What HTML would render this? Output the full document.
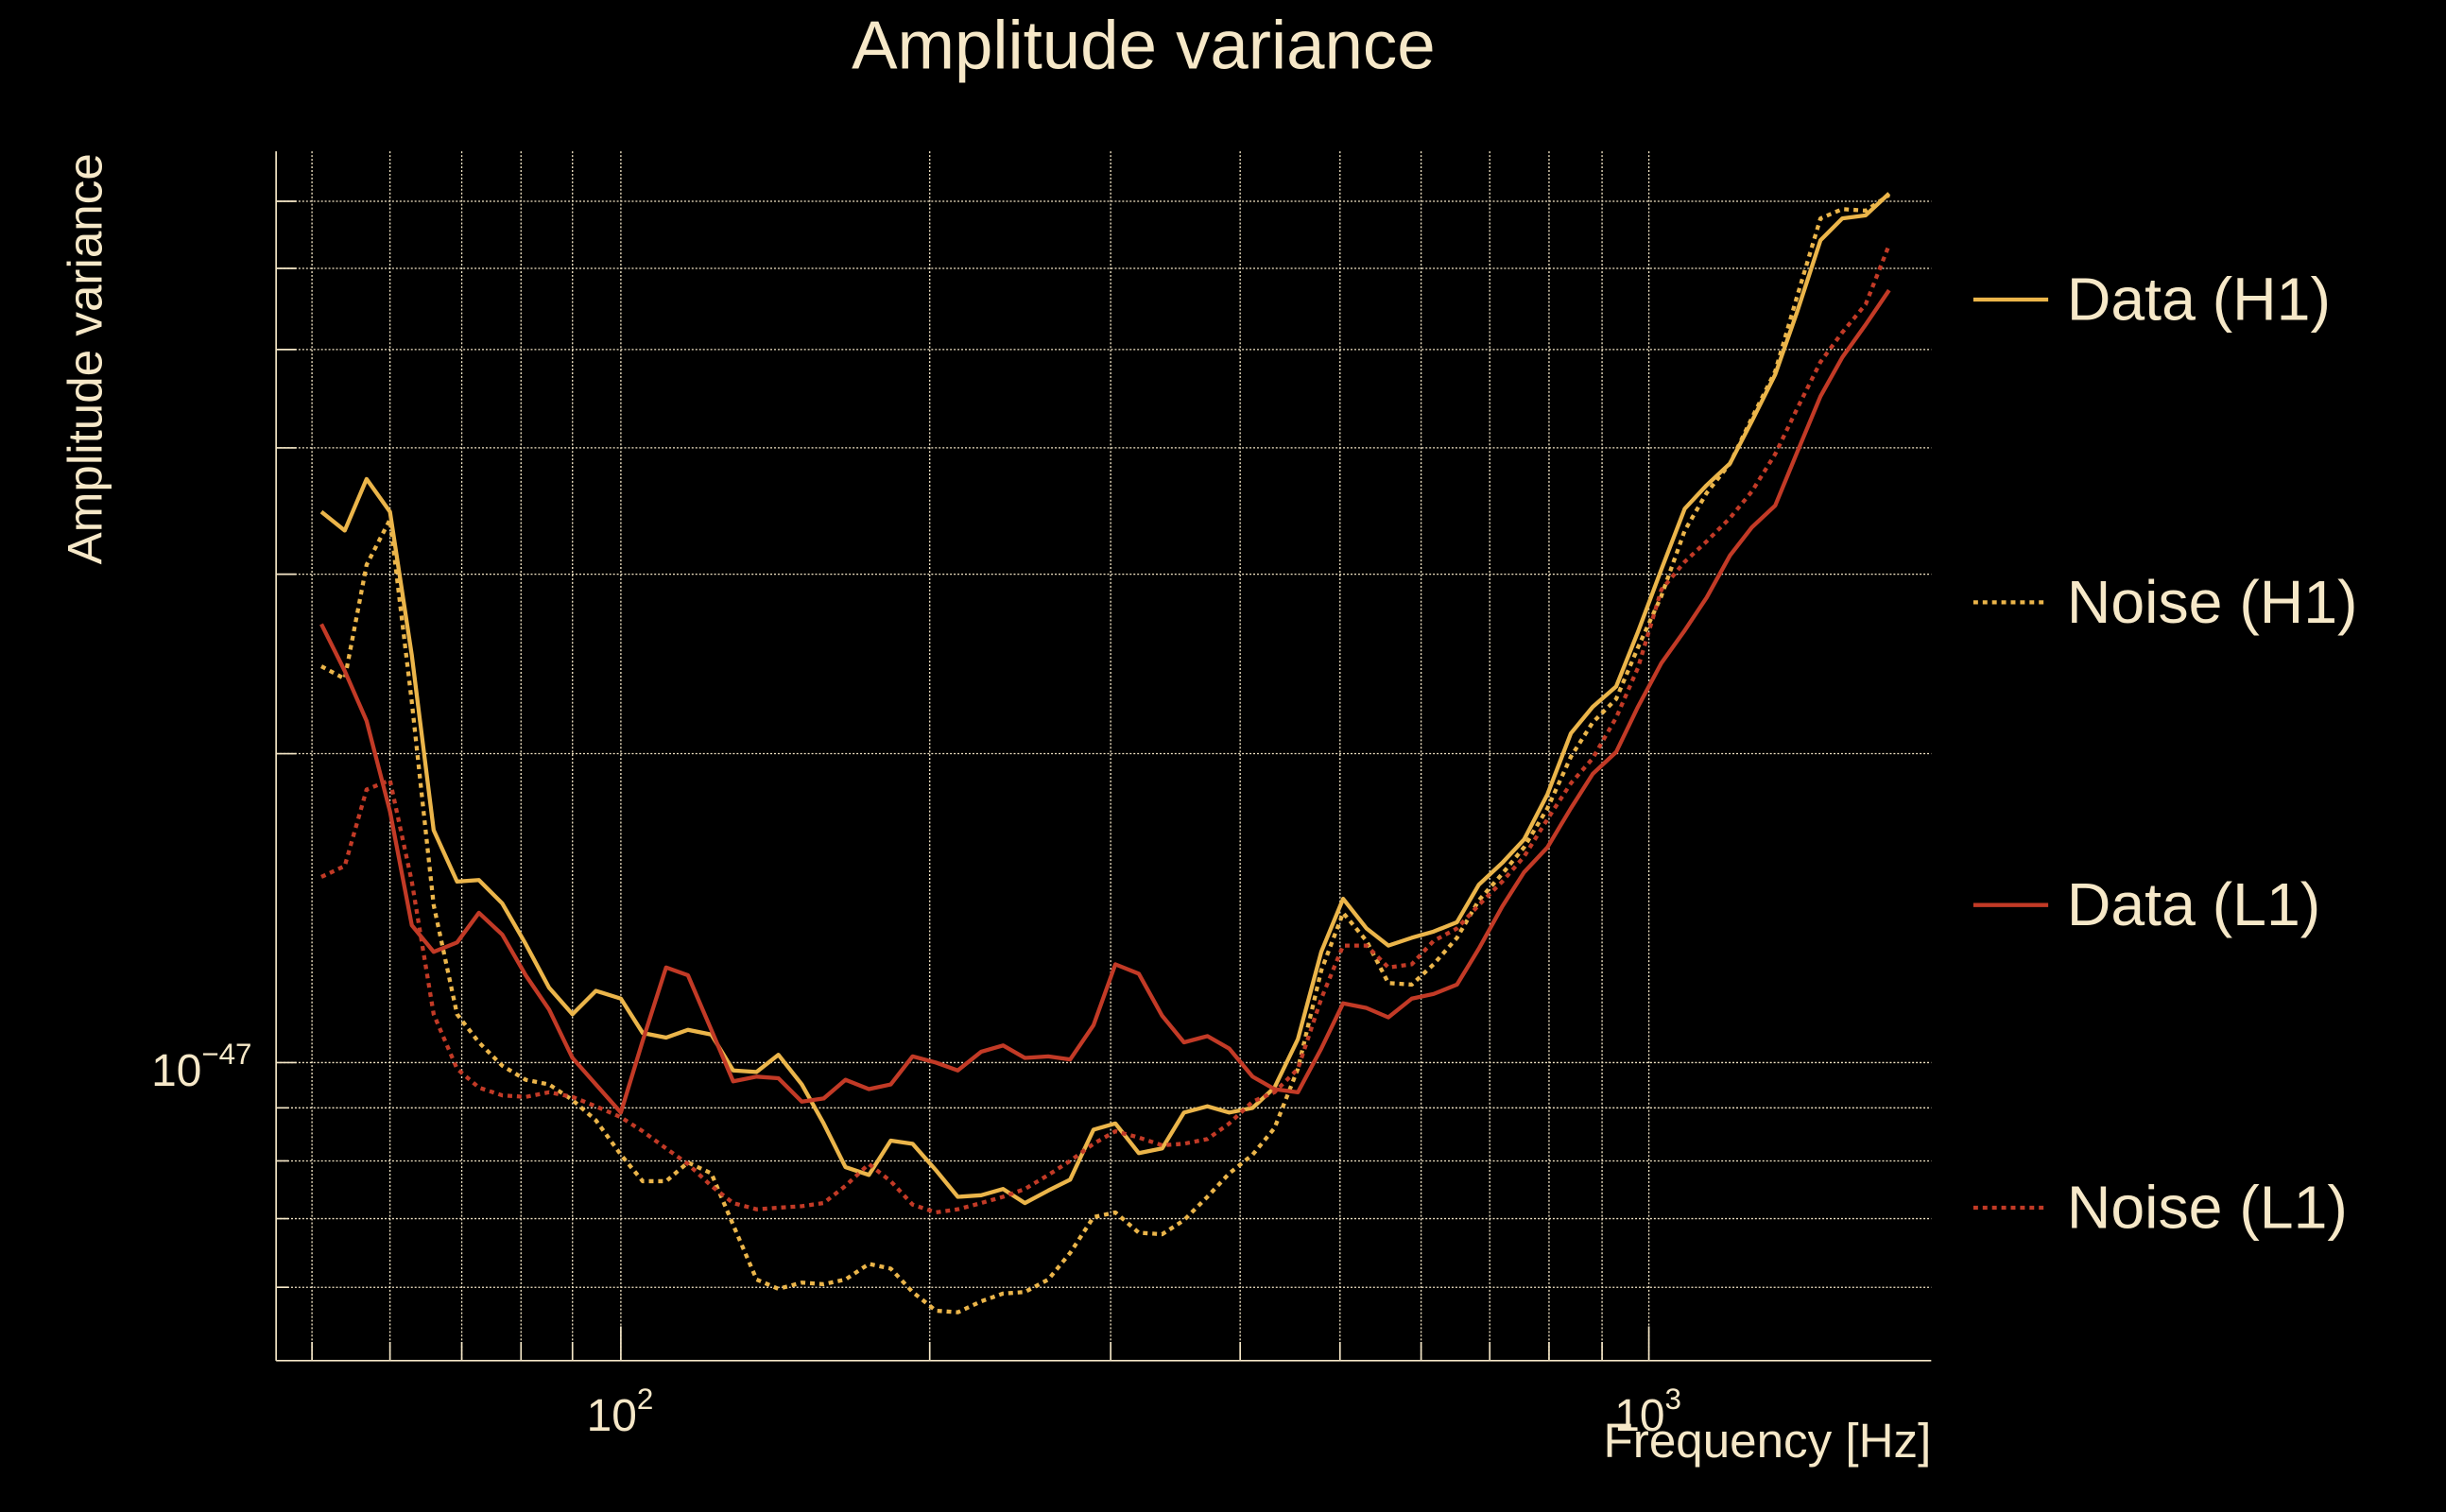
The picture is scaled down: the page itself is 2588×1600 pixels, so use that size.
<!DOCTYPE html>
<html><head><meta charset="utf-8"><style>
html,body{margin:0;padding:0;background:#000;}
svg{display:block;}
text{font-family:"Liberation Sans",sans-serif;fill:#f6e8c8;}
</style></head><body>
<svg width="2588" height="1600" viewBox="0 0 1568 969" preserveAspectRatio="none" xmlns="http://www.w3.org/2000/svg">
<rect width="1568" height="969" fill="#000"/>
<g stroke="#f6e8c8" stroke-width="0.8" stroke-dasharray="1.2 1.2" fill="none">
<line x1="177" y1="129" x2="1238" y2="129"/><line x1="177" y1="172" x2="1238" y2="172"/>
<line x1="177" y1="224" x2="1238" y2="224"/><line x1="177" y1="287" x2="1238" y2="287"/>
<line x1="177" y1="368" x2="1238" y2="368"/><line x1="177" y1="483" x2="1238" y2="483"/>
<line x1="177" y1="681" x2="1238" y2="681"/><line x1="177" y1="710" x2="1238" y2="710"/>
<line x1="177" y1="744" x2="1238" y2="744"/><line x1="177" y1="781" x2="1238" y2="781"/>
<line x1="177" y1="825" x2="1238" y2="825"/>
<line x1="200" y1="97" x2="200" y2="872"/><line x1="250" y1="97" x2="250" y2="872"/>
<line x1="296" y1="97" x2="296" y2="872"/><line x1="334" y1="97" x2="334" y2="872"/>
<line x1="367" y1="97" x2="367" y2="872"/><line x1="398" y1="97" x2="398" y2="872"/>
<line x1="596" y1="97" x2="596" y2="872"/><line x1="712" y1="97" x2="712" y2="872"/>
<line x1="795" y1="97" x2="795" y2="872"/><line x1="859" y1="97" x2="859" y2="872"/>
<line x1="911" y1="97" x2="911" y2="872"/><line x1="955" y1="97" x2="955" y2="872"/>
<line x1="993" y1="97" x2="993" y2="872"/><line x1="1027" y1="97" x2="1027" y2="872"/>
<line x1="1057" y1="97" x2="1057" y2="872"/>
</g>
<g stroke="#f6e8c8" stroke-width="1" fill="none">
<line x1="177" y1="97" x2="177" y2="872"/><line x1="177" y1="872" x2="1238" y2="872"/>
<path d="M177 129h13M177 172h13M177 224h13M177 287h13M177 368h13M177 483h13M177 681h13M177 710h8M177 744h8M177 781h8M177 825h8"/>
<path d="M200 872v-12M250 872v-12M296 872v-12M334 872v-12M367 872v-12M398 872v-22M596 872v-12M712 872v-12M795 872v-12M859 872v-12M911 872v-12M955 872v-12M993 872v-12M1027 872v-12M1057 872v-22"/>
</g>
<g fill="none" stroke-width="2.6" stroke-linejoin="round">
<polyline stroke="#ebb54a" points="206,328 221,340 235,307 250,328 264,420 278,532 293,565 307,564 322,579 337,605 352,633 367,650 382,635 398,640 412,662 427,665 441,660 456,663 470,686 485,687 499,676 514,695 528,720 542,748 557,753 571,731 585,733 600,750 614,767 629,766 643,762 657,771 672,763 686,756 701,724 715,720 730,739 745,736 759,713 774,709 788,713 803,710 817,697 832,666 847,610 861,576 876,595 890,606 905,601 919,597 934,591 948,567 963,553 977,538 992,509 1007,470 1021,453 1036,440 1050,405 1065,365 1080,326 1094,311 1109,297 1123,270 1138,240 1152,200 1167,154 1181,140 1196,138 1211,124"/>
<polyline stroke="#ebb54a" stroke-dasharray="3 3" points="206,427 221,435 235,362 250,333 264,450 278,580 293,650 307,668 322,683 337,692 352,695 367,705 382,718 398,740 412,757 427,757 441,745 456,752 470,785 485,820 499,826 514,822 528,823 542,820 557,810 571,813 585,828 600,840 614,841 629,834 643,829 657,828 672,820 686,803 701,780 715,777 730,790 745,791 759,782 774,767 788,752 803,740 817,723 832,685 847,622 861,585 876,603 890,630 905,631 919,618 934,601 948,577 963,560 977,543 992,518 1007,485 1021,463 1036,448 1050,415 1065,382 1080,340 1094,316 1109,297 1123,268 1138,238 1152,190 1167,140 1181,134 1196,135 1211,125"/>
<polyline stroke="#c23a26" points="206,400 221,430 235,462 250,520 264,593 278,610 293,604 307,585 322,599 337,625 352,647 367,678 382,695 398,713 412,667 427,620 441,625 456,660 470,693 485,690 499,691 514,706 528,704 542,692 557,698 571,695 585,677 600,681 614,686 629,674 643,670 657,678 672,677 686,679 701,657 715,618 730,624 745,651 759,668 774,664 788,672 803,690 817,698 832,700 847,672 861,643 876,646 890,652 905,640 919,637 934,631 948,608 963,581 977,559 992,543 1007,518 1021,496 1036,482 1050,453 1065,425 1080,404 1094,383 1109,356 1123,338 1138,324 1152,290 1167,254 1181,229 1196,208 1211,186"/>
<polyline stroke="#c23a26" stroke-dasharray="3 3" points="206,562 221,555 235,506 250,500 264,565 278,650 293,685 307,697 322,702 337,703 352,700 367,703 382,709 398,716 412,725 427,736 441,746 456,760 470,771 485,775 499,774 514,773 528,771 542,760 557,746 571,757 585,772 600,777 614,775 629,771 643,767 657,762 672,753 686,744 701,733 715,725 730,729 745,734 759,733 774,730 788,720 803,706 817,700 832,685 847,640 861,606 876,606 890,620 905,618 919,603 934,595 948,580 963,565 977,549 992,525 1007,502 1021,486 1036,460 1050,428 1065,378 1080,360 1094,347 1109,332 1123,315 1138,291 1152,262 1167,232 1181,213 1196,195 1211,157"/>
</g>
<text x="733" y="44" font-size="44" text-anchor="middle">Amplitude variance</text>
<text transform="translate(65,230) rotate(-90)" font-size="31" text-anchor="middle">Amplitude variance</text>
<text x="97" y="696" font-size="29">10<tspan dy="-14" font-size="19">−47</tspan></text>
<text x="376" y="917" font-size="29">10<tspan dy="-14" font-size="19">2</tspan></text>
<text x="1035" y="917" font-size="29">10<tspan dy="-14" font-size="19">3</tspan></text>
<text x="1238" y="934" font-size="31" text-anchor="end">Frequency [Hz]</text>
<g stroke-width="2.6">
<line x1="1265" y1="192" x2="1313" y2="192" stroke="#ebb54a"/>
<line x1="1265" y1="386" x2="1313" y2="386" stroke="#ebb54a" stroke-dasharray="3 3"/>
<line x1="1265" y1="580" x2="1313" y2="580" stroke="#c23a26"/>
<line x1="1265" y1="774" x2="1313" y2="774" stroke="#c23a26" stroke-dasharray="3 3"/>
</g>
<g font-size="39">
<text x="1325" y="205">Data (H1)</text>
<text x="1325" y="399">Noise (H1)</text>
<text x="1325" y="593">Data (L1)</text>
<text x="1325" y="787">Noise (L1)</text>
</g>
</svg>
</body></html>
